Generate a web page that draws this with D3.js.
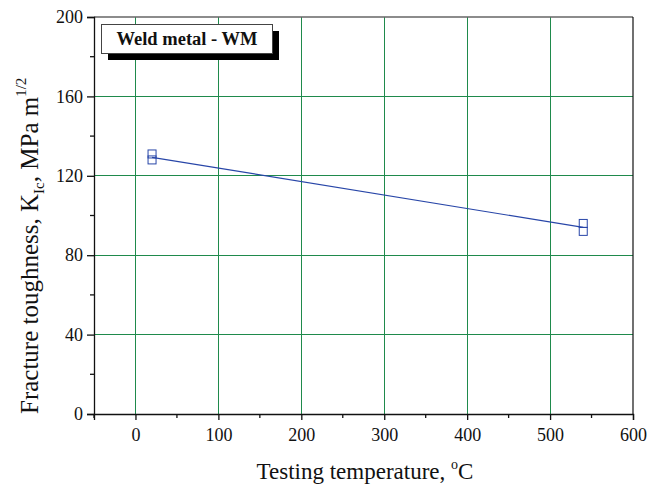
<!DOCTYPE html>
<html><head><meta charset="utf-8">
<script src="https://cdn.jsdelivr.net/npm/d3@7"></script>
<style>body{margin:0;background:#fff}svg{display:block}</style>
</head><body><svg id="c" width="648" height="486"></svg>
<script>
const tempX = [20, 20, 540, 540];
const toughness = [131, 128, 96, 92];
const fitX = [20, 540];
const fitY = [129.3, 94];
const xTicks = [0, 100, 200, 300, 400, 500, 600];
const yTicks = [0, 40, 80, 120, 160, 200];
const legendLabel = "Weld metal - WM";

const FONT = "'Liberation Serif','Times New Roman',serif";
const svg = d3.select("#c").attr("font-family", FONT);
const L = 94, R = 633, T = 17, B = 414;
const x = d3.scaleLinear().domain([-50, 600]).range([L, R]);
const y = d3.scaleLinear().domain([0, 200]).range([B, T]);
const grid = "#1f8a4c";

// grid
svg.append("g").selectAll("line").data(xTicks.filter(v => v < 600)).join("line")
  .attr("x1", d => x(d)).attr("x2", d => x(d)).attr("y1", T).attr("y2", B)
  .attr("stroke", grid).attr("stroke-width", 1).attr("shape-rendering", "crispEdges");
svg.append("g").selectAll("line").data(yTicks.filter(v => v > 0 && v < 200)).join("line")
  .attr("x1", L).attr("x2", R).attr("y1", d => y(d)).attr("y2", d => y(d))
  .attr("stroke", grid).attr("stroke-width", 1).attr("shape-rendering", "crispEdges");

// frame top and right
svg.append("line").attr("x1", L).attr("x2", R).attr("y1", T).attr("y2", T)
  .attr("stroke", "#666").attr("stroke-width", 1.5);
svg.append("line").attr("x1", R).attr("x2", R).attr("y1", T).attr("y2", B)
  .attr("stroke", "#111").attr("stroke-width", 1.2);

// x axis
const xMinor = d3.range(-50, 601, 50).filter(v => v % 100 !== 0);
const gx = svg.append("g").attr("transform", `translate(0,${B})`)
  .call(d3.axisBottom(x).tickValues(xTicks).tickSize(6).tickPadding(8).tickFormat(d3.format("d")));
gx.attr("font-family", FONT);
gx.select(".domain").attr("stroke", "#111").attr("stroke-width", 1.3);
gx.selectAll(".tick line").attr("stroke", "#111").attr("stroke-width", 1.3);
gx.selectAll("text").attr("font-size", 18).attr("fill", "#111").attr("font-family", FONT);
svg.append("g").selectAll("line").data(xMinor).join("line")
  .attr("x1", d => x(d)).attr("x2", d => x(d)).attr("y1", B).attr("y2", B + 4)
  .attr("stroke", "#111").attr("stroke-width", 1.3);

// y axis
const yMinor = d3.range(20, 200, 40);
const gy = svg.append("g").attr("transform", `translate(${L},0)`)
  .call(d3.axisLeft(y).tickValues(yTicks).tickSize(7).tickPadding(4).tickFormat(d3.format("d")));
gy.attr("font-family", FONT);
gy.select(".domain").attr("stroke", "#111").attr("stroke-width", 1.3);
gy.selectAll(".tick line").attr("stroke", "#111").attr("stroke-width", 1.3);
gy.selectAll("text").attr("font-size", 18).attr("fill", "#111").attr("font-family", FONT);
svg.append("g").selectAll("line").data(yMinor).join("line")
  .attr("x1", L - 4).attr("x2", L).attr("y1", d => y(d)).attr("y2", d => y(d))
  .attr("stroke", "#111").attr("stroke-width", 1.3);

// fit line
svg.append("path").datum(fitX.map((v, i) => [v, fitY[i]]))
  .attr("d", d3.line().x(d => x(d[0])).y(d => y(d[1])))
  .attr("fill", "none").attr("stroke", "#2846a8").attr("stroke-width", 1.2);

// points
svg.append("g").selectAll("rect").data(tempX.map((v, i) => [v, toughness[i]])).join("rect")
  .attr("x", d => x(d[0]) - 4).attr("y", d => y(d[1]) - 4).attr("width", 8).attr("height", 8)
  .attr("fill", "none").attr("stroke", "#2846a8").attr("stroke-width", 1);

// legend box
svg.append("rect").attr("x", 108).attr("y", 31).attr("width", 171).attr("height", 29).attr("fill", "#000");
svg.append("rect").attr("x", 101.5).attr("y", 24.5).attr("width", 171).attr("height", 29)
  .attr("fill", "#fff").attr("stroke", "#444").attr("stroke-width", 1);
svg.append("text").attr("x", 187).attr("y", 45).attr("text-anchor", "middle")
  .attr("font-size", 18.5).attr("font-weight", "bold").attr("fill", "#111").text(legendLabel);

// x title
const xt = svg.append("text").attr("x", 365).attr("y", 479).attr("text-anchor", "middle")
  .attr("font-size", 23).attr("fill", "#111");
xt.append("tspan").text("Testing temperature,  ");
xt.append("tspan").attr("font-size", 14).attr("dy", -10).text("o");
xt.append("tspan").attr("dy", 10).text("C");

// y title
const yt = svg.append("text").attr("transform", "translate(38,414) rotate(-90)")
  .attr("text-anchor", "start").attr("font-size", 25).attr("fill", "#111");
yt.append("tspan").text("Fracture toughness, K");
yt.append("tspan").attr("font-size", 15).attr("dy", 6).text("Ic");
yt.append("tspan").attr("dy", -6).text(", MPa m");
yt.append("tspan").attr("font-size", 15).attr("dy", -12).text("1/2");
</script></body></html>
